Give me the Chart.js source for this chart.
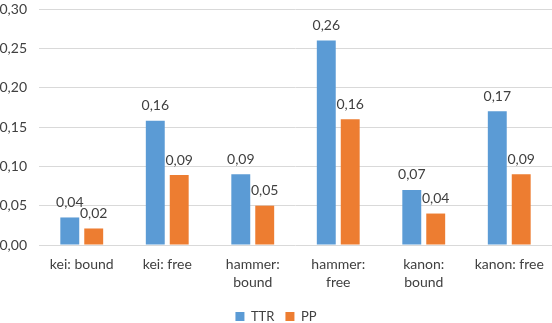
<!DOCTYPE html>
<html>
<head>
<meta charset="utf-8">
<script src="https://cdn.jsdelivr.net/npm/chart.js@4/dist/chart.umd.min.js"></script>
<style>
  html, body { margin: 0; padding: 0; background: #fff; }
  #wrap { width: 552px; height: 323px; position: relative; }
</style>
</head>
<body>
<div id="wrap"><canvas id="chart"></canvas></div>
<script>
// Daten
const categories = [['kei: bound'], ['kei: free'], ['hammer:', 'bound'], ['hammer:', 'free'], ['kanon:', 'bound'], ['kanon: free']];
const ttrValues = [0.035, 0.158, 0.09, 0.26, 0.07, 0.17];
const ppValues = [0.021, 0.089, 0.05, 0.16, 0.04, 0.09];
const yTicks = [0, 0.05, 0.10, 0.15, 0.20, 0.25, 0.30];

const fmt = v => v.toFixed(2).replace('.', ',');

// Werte über den Balken
const valueLabels = {
  id: 'valueLabels',
  afterDatasetsDraw(chart) {
    const ctx = chart.ctx;
    ctx.save();
    ctx.font = '14px Lato';
    ctx.fillStyle = '#404040';
    ctx.textAlign = 'center';
    ctx.textBaseline = 'middle';
    chart.data.datasets.forEach((ds, i) => {
      chart.getDatasetMeta(i).data.forEach((bar, j) => {
        ctx.fillText(fmt(ds.data[j]), bar.x, bar.y - 15);
      });
    });
    ctx.restore();
  }
};

const data = {
  labels: categories,
  datasets: [
    { label: 'TTR', data: ttrValues, backgroundColor: '#5B9BD5' },
    { label: 'PP', data: ppValues, backgroundColor: '#ED7D31' }
  ]
};

const config = {
  type: 'bar',
  data: data,
  options: {
    responsive: true,
    maintainAspectRatio: false,
    animation: false,
    layout: { padding: { top: 0, left: 0, right: 0, bottom: -10 } },
    datasets: {
      bar: { categoryPercentage: 0.56, barPercentage: 0.79 }
    },
    scales: {
      x: {
        grid: { display: false },
        border: { display: false },
        ticks: { color: '#404040', font: { family: 'Lato', size: 14, lineHeight: 1.3 }, maxRotation: 0, padding: 2 },
        afterFit: axis => { axis.height = 54; }
      },
      y: {
        min: 0,
        max: 0.3,
        afterBuildTicks: axis => { axis.ticks = yTicks.map(v => ({ value: v })); },
        afterFit: axis => { axis.width = 39; axis.paddingTop = 9; },
        grid: { color: '#d9d9d9', drawTicks: false },
        border: { display: false },
        ticks: { color: '#404040', font: { family: 'Lato', size: 14 }, padding: 12, callback: v => fmt(v) }
      }
    },
    plugins: {
      legend: {
        position: 'bottom',
        labels: { color: '#404040', font: { family: 'Lato', size: 13 }, boxWidth: 9, boxHeight: 9, padding: 11 }
      },
      tooltip: { enabled: false }
    }
  },
  plugins: [valueLabels]
};

new Chart(document.getElementById('chart'), config);
</script>
</body>
</html>
